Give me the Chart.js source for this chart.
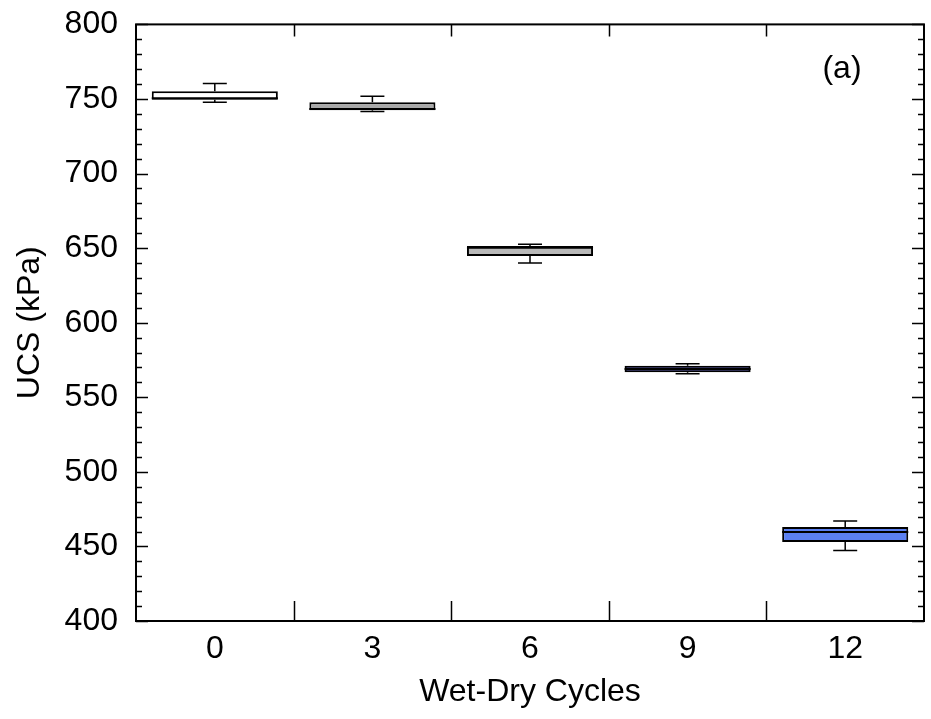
<!DOCTYPE html>
<html>
<head>
<meta charset="utf-8">
<script src="https://cdn.jsdelivr.net/npm/chart.js@4"></script>
<style>
  html, body { margin: 0; padding: 0; background: #fff; }
  #wrap { width: 931px; height: 719px; }
</style>
</head>
<body>
<div id="wrap"><canvas id="ucs-chart" width="931" height="719"></canvas></div>
<script>
// wet-dry cycles and UCS box stats (kPa)
const cycles = ["0", "3", "6", "9", "12"];
const whiskerMax = [760.3, 751.8, 652.6, 572.4, 467.1];
const q3 = [755.2, 747.8, 651.5, 571.2, 463.1];
const median = [750.5, 743.2, 650.3, 569.0, 459.7];
const q1 = [749.4, 742.5, 644.8, 566.8, 453.0];
const whiskerMin = [747.8, 741.6, 640.1, 565.7, 447.3];
const boxColors = ["#ffffff", "#a9a9a9", "#b9b9b9", "#00008e", "#5b80f2"];

const yMin = 400, yMax = 800;
const FONT = "'Liberation Sans', Arial, sans-serif";
const FS = 32;

const boxPlot = {
  id: "boxPlot",
  afterDatasetsDraw(chart) {
    const ctx = chart.ctx;
    const x = chart.scales.x, y = chart.scales.y;
    const meta = chart.getDatasetMeta(0);
    ctx.save();
    ctx.strokeStyle = "#000";
    ctx.lineWidth = 1.5;
    meta.data.forEach((bar, i) => {
      const cx = bar.x;
      const cap = 12;
      const yTop = y.getPixelForValue(whiskerMax[i]);
      const yQ3 = y.getPixelForValue(q3[i]);
      const yQ1 = y.getPixelForValue(q1[i]);
      const yBot = y.getPixelForValue(whiskerMin[i]);
      const yMed = y.getPixelForValue(median[i]);
      ctx.beginPath();
      ctx.moveTo(cx, yTop); ctx.lineTo(cx, yQ3);
      ctx.moveTo(cx, yQ1); ctx.lineTo(cx, yBot);
      ctx.moveTo(cx - cap, yTop); ctx.lineTo(cx + cap, yTop);
      ctx.moveTo(cx - cap, yBot); ctx.lineTo(cx + cap, yBot);
      ctx.stroke();
      ctx.lineWidth = 2;
      ctx.beginPath();
      ctx.moveTo(bar.x - bar.width / 2, yMed);
      ctx.lineTo(bar.x + bar.width / 2, yMed);
      ctx.stroke();
      ctx.lineWidth = 1.5;
    });

    // frame + inward ticks
    const a = chart.chartArea;
    ctx.lineWidth = 2;
    ctx.strokeRect(a.left, a.top, a.right - a.left, a.bottom - a.top);
    ctx.lineWidth = 1.5;
    ctx.beginPath();
    for (let v = yMin; v <= yMax; v += 10) {
      const py = Math.round(y.getPixelForValue(v)) + 0.5;
      const len = v % 50 === 0 ? 12 : 6;
      ctx.moveTo(a.left, py); ctx.lineTo(a.left + len, py);
      ctx.moveTo(a.right, py); ctx.lineTo(a.right - len, py);
    }
    for (let i = 1; i < cycles.length; i++) {
      const px = Math.round((x.getPixelForValue(i - 1) + x.getPixelForValue(i)) / 2) + 0.5;
      ctx.moveTo(px, a.bottom); ctx.lineTo(px, a.bottom - 20);
      ctx.moveTo(px, a.top); ctx.lineTo(px, a.top + 12);
    }
    ctx.stroke();

    ctx.fillStyle = "#000";
    ctx.font = FS + "px " + FONT;
    ctx.textAlign = "center";
    ctx.textBaseline = "middle";
    ctx.fillText("(a)", 842, 69);
    ctx.restore();
  }
};

new Chart(document.getElementById("ucs-chart"), {
  type: "bar",
  data: {
    labels: cycles,
    datasets: [{
      data: cycles.map((c, i) => [q1[i], q3[i]]),
      backgroundColor: boxColors,
      borderColor: "#000",
      borderWidth: 2,
      borderSkipped: false,
      barPercentage: 0.8,
      categoryPercentage: 1.0
    }]
  },
  options: {
    responsive: false,
    animation: false,
    layout: { padding: { left: 0, right: 7, top: 23, bottom: 0 } },
    plugins: { legend: { display: false }, tooltip: { enabled: false } },
    scales: {
      x: {
        grid: { display: false, drawTicks: false },
        border: { display: false },
        ticks: { color: "#000", font: { family: FONT, size: FS }, padding: 9 },
        title: { display: true, text: "Wet-Dry Cycles", color: "#000", font: { family: FONT, size: FS }, padding: { top: 0, bottom: 8 } },
        afterFit(s) { s.height = 98; }
      },
      y: {
        min: yMin, max: yMax,
        grid: { display: false, drawTicks: false },
        border: { display: false },
        ticks: { stepSize: 50, color: "#000", font: { family: FONT, size: FS, lineHeight: 0.4 }, padding: 18 },
        title: { display: true, text: "UCS (kPa)", color: "#000", font: { family: FONT, size: FS }, padding: { top: 11, bottom: 0 } },
        afterFit(s) { s.width = 136; }
      }
    }
  },
  plugins: [boxPlot]
});
</script>
</body>
</html>
